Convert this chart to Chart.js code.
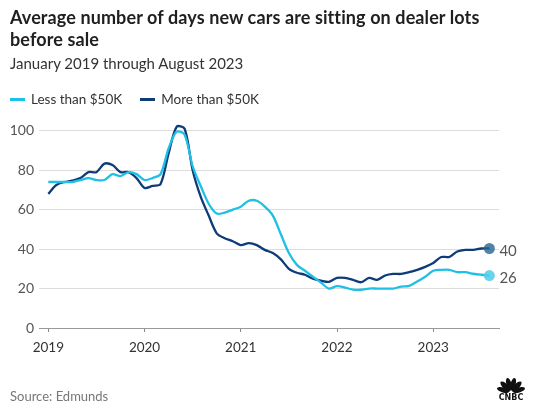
<!DOCTYPE html>
<html>
<head>
<meta charset="utf-8">
<script src="https://cdn.jsdelivr.net/npm/chart.js@4"></script>
<style>
  html, body { margin: 0; padding: 0; background: #fff; }
  #wrap { position: relative; width: 540px; height: 418px; overflow: hidden; font-family: Lato, "Open Sans", sans-serif; }
  #c { position: absolute; left: 0; top: 0; }
  .t { position: absolute; left: 10px; white-space: nowrap; }
  #title { top: 6px; font-size: 18px; font-weight: 700; color: #1f1f1f; line-height: 22px; letter-spacing: 0.1px; }
  #sub { top: 54px; font-size: 15px; color: #333; }
  #legend { top: 91px; font-size: 13.5px; color: #333; }
  .sw { display: inline-block; width: 15px; height: 3px; vertical-align: middle; margin-right: 6px; position: relative; top: -1px; }
  #source { top: 388px; font-size: 13px; color: #777; }
</style>
</head>
<body>
<div id="wrap">
  <canvas id="c" width="540" height="418"></canvas>
  <div class="t" id="title">Average number of days new cars are sitting on dealer lots<br>before sale</div>
  <div class="t" id="sub">January 2019 through August 2023</div>
  <div class="t" id="legend"><span class="sw" style="background:#1fc0e6"></span>Less than $50K<span style="display:inline-block;width:18px"></span><span class="sw" style="background:#0d3c78"></span>More than $50K</div>
  <div class="t" id="source">Source: Edmunds</div>
</div>
<script>
// Months: Jan 2019 .. Aug 2023 (index 0..55)
const monthIndex = Array.from({length: 56}, (_, i) => i);
const yearTickIndex = [0, 12, 24, 36, 48];
const yearTickLabels = ["2019", "2020", "2021", "2022", "2023"];
const yTicks = [0, 20, 40, 60, 80, 100];

const lessThan50K = [
  74, 74, 74, 74, 75, 76, 75, 75, 78, 77, 79, 78,
  75, 76, 78, 91, 99.5, 98, 82, 72, 63, 58, 58.5, 60,
  61.5, 64.5, 64.5, 61.5, 57, 47.5, 38, 32, 29, 26, 23, 20,
  21.2, 20.5, 19.4, 19.4, 20, 20, 20, 20, 21, 21.4, 23.6, 26,
  29, 29.5, 29.5, 28.3, 28.3, 27.5, 27, 26.6
];
const moreThan50K = [
  68, 72.5, 74, 74.7, 76, 79, 79, 83.3, 82.6, 79, 79, 76,
  71, 72, 73, 88.5, 102, 101, 80, 66.6, 57, 48, 45.5, 44,
  42, 43, 42, 39.6, 38, 34.8, 30, 28, 27, 25, 24, 23.4,
  25.4, 25.4, 24.4, 23.2, 25.4, 24.4, 26.6, 27.4, 27.4, 28.3, 29.5, 31,
  33, 36, 36, 38.8, 39.6, 39.6, 40.3, 40.3
];
const endLabels = ["26", "40"];

const lightColor = "#1fc0e6";
const darkColor = "#0d3c78";

const pts = arr => arr.map((v, i) => ({x: monthIndex[i], y: v}));
const lastOnly = (r) => (ctx) => ctx.dataIndex === monthIndex.length - 1 ? r : 0;

const endLabelPlugin = {
  id: 'endLabels',
  afterDatasetsDraw(chart) {
    const ctx = chart.ctx;
    ctx.save();
    ctx.font = '15px Lato, "Open Sans", sans-serif';
    ctx.fillStyle = '#555';
    ctx.textBaseline = 'middle';
    ctx.textAlign = 'left';
    chart.data.datasets.forEach((ds, di) => {
      const meta = chart.getDatasetMeta(di);
      const p = meta.data[meta.data.length - 1];
      ctx.fillText(endLabels[di], p.x + 10, p.y + 3);
    });
    // CNBC peacock mark
    const cx = 511, cy = 392;
    ctx.fillStyle = '#111';
    for (let k = 0; k < 6; k++) {
      const a = Math.PI + (k + 0.5) * Math.PI / 6;
      ctx.beginPath();
      ctx.ellipse(cx + Math.cos(a) * 8, cy + Math.sin(a) * 8, 6.5, 2.6, a, 0, Math.PI * 2);
      ctx.fill();
    }
    ctx.font = '900 8px "DejaVu Sans", sans-serif';
    ctx.textAlign = 'center';
    ctx.textBaseline = 'alphabetic';
    ctx.fillText('CNBC', cx, cy + 8);
    ctx.restore();
  }
};

new Chart(document.getElementById('c'), {
  type: 'line',
  data: {
    datasets: [
      {
        label: 'Less than $50K',
        data: pts(lessThan50K),
        borderColor: lightColor,
        backgroundColor: 'rgba(80, 205, 236, 0.85)',
        borderWidth: 2.3,
        tension: 0.3,
        pointRadius: lastOnly(5.5),
        pointHoverRadius: 0,
        pointBorderWidth: 0,
        pointBackgroundColor: 'rgba(80, 205, 236, 0.85)'
      },
      {
        label: 'More than $50K',
        data: pts(moreThan50K),
        borderColor: darkColor,
        backgroundColor: 'rgba(30, 90, 140, 0.8)',
        borderWidth: 2.3,
        tension: 0.3,
        pointRadius: lastOnly(5.5),
        pointHoverRadius: 0,
        pointBorderWidth: 0,
        pointBackgroundColor: 'rgba(40, 100, 145, 0.8)'
      }
    ]
  },
  options: {
    responsive: false,
    animation: false,
    events: [],
    layout: { padding: { top: 111, right: 41, left: 0, bottom: 0 } },
    plugins: { legend: { display: false }, tooltip: { enabled: false } },
    scales: {
      x: {
        type: 'linear',
        min: -1.16,
        max: 56.2,
        afterFit(scale) { scale.height = 90; },
        afterBuildTicks(scale) { scale.ticks = yearTickIndex.map(v => ({value: v})); },
        ticks: {
          autoSkip: false,
          maxRotation: 0,
          padding: 8,
          color: '#333',
          font: { family: 'Lato, "Open Sans", sans-serif', size: 13.5 },
          callback: (v) => yearTickLabels[yearTickIndex.indexOf(v)]
        },
        grid: { drawOnChartArea: false, drawTicks: true, tickLength: 4, color: '#888', lineWidth: 1 },
        border: { display: true, color: '#999', width: 1 }
      },
      y: {
        min: 0,
        max: 110,
        afterFit(scale) { scale.width = 39; },
        afterBuildTicks(scale) { scale.ticks = yTicks.map(v => ({value: v})); },
        ticks: {
          padding: 5,
          color: '#555',
          font: { family: 'Lato, "Open Sans", sans-serif', size: 14 }
        },
        grid: {
          drawTicks: false,
          color: (ctx) => ctx.tick && ctx.tick.value === 0 ? 'rgba(0,0,0,0)' : '#dcdcdc',
          lineWidth: 1
        },
        border: { display: false }
      }
    }
  },
  plugins: [endLabelPlugin]
});
</script>
</body>
</html>
